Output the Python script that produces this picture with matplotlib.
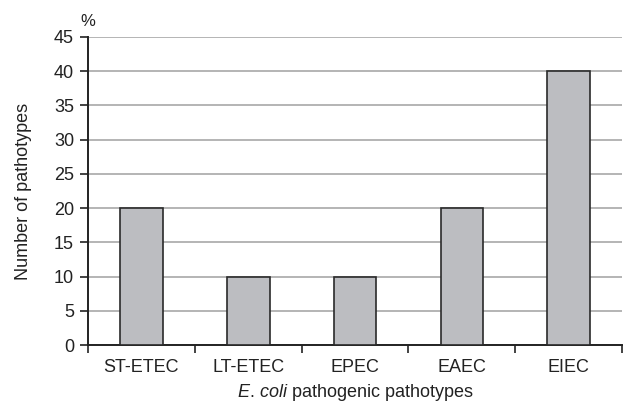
import matplotlib
matplotlib.use("Agg")
import matplotlib.pyplot as plt
import numpy as np

# data
pathotypes = ["ST-ETEC", "LT-ETEC", "EPEC", "EAEC", "EIEC"]
percent = [20, 10, 10, 20, 40]
yticks = [0, 5, 10, 15, 20, 25, 30, 35, 40, 45]

plt.rcParams['font.family'] = ['Liberation Sans', 'DejaVu Sans']
plt.rcParams['mathtext.fontset'] = 'custom'
plt.rcParams['mathtext.rm'] = 'Liberation Sans'
plt.rcParams['mathtext.it'] = 'Liberation Sans:italic'

fig = plt.figure(figsize=(6.24, 4.05), dpi=100)
ax = fig.add_axes([0.141, 0.148, 0.856, 0.761])

x = np.arange(len(pathotypes))
ax.bar(x, percent, width=0.4, color="#bcbdc1", edgecolor="#2a2a2a", linewidth=1.2, zorder=3)

ax.set_xlim(-0.5, len(pathotypes) - 0.5)
ax.set_ylim(0, 45)
ax.set_yticks(yticks)
ax.yaxis.grid(True, color="#a8a8a8", linewidth=1.2, zorder=0)
ax.set_axisbelow(True)

# category ticks at boundaries, labels centred
ax.set_xticks(np.arange(len(pathotypes) + 1) - 0.5)
ax.set_xticklabels([])
ax.set_xticks(x, minor=True)
ax.set_xticklabels(pathotypes, minor=True, fontsize=13, color="#222222")
ax.tick_params(axis="x", which="minor", length=0, pad=10)
ax.tick_params(axis="x", which="major", length=6, width=1.2, color="#222222", direction="out")
ax.tick_params(axis="y", length=6, width=1.2, color="#222222", labelsize=13, labelcolor="#222222", pad=4)

for side in ["top", "right"]:
    ax.spines[side].set_visible(False)
for side in ["left", "bottom"]:
    ax.spines[side].set_linewidth(1.4)
    ax.spines[side].set_color("#222222")

ax.set_ylabel("Number of pathotypes", fontsize=13, color="#222222", labelpad=16)
ax.set_xlabel(r"$\it{E.\,coli}$ pathogenic pathotypes", fontsize=13, color="#222222", labelpad=4)
fig.text(0.141, 0.937, "%", fontsize=12, color="#222222", ha="center")

fig.savefig("out.png", dpi=100)
